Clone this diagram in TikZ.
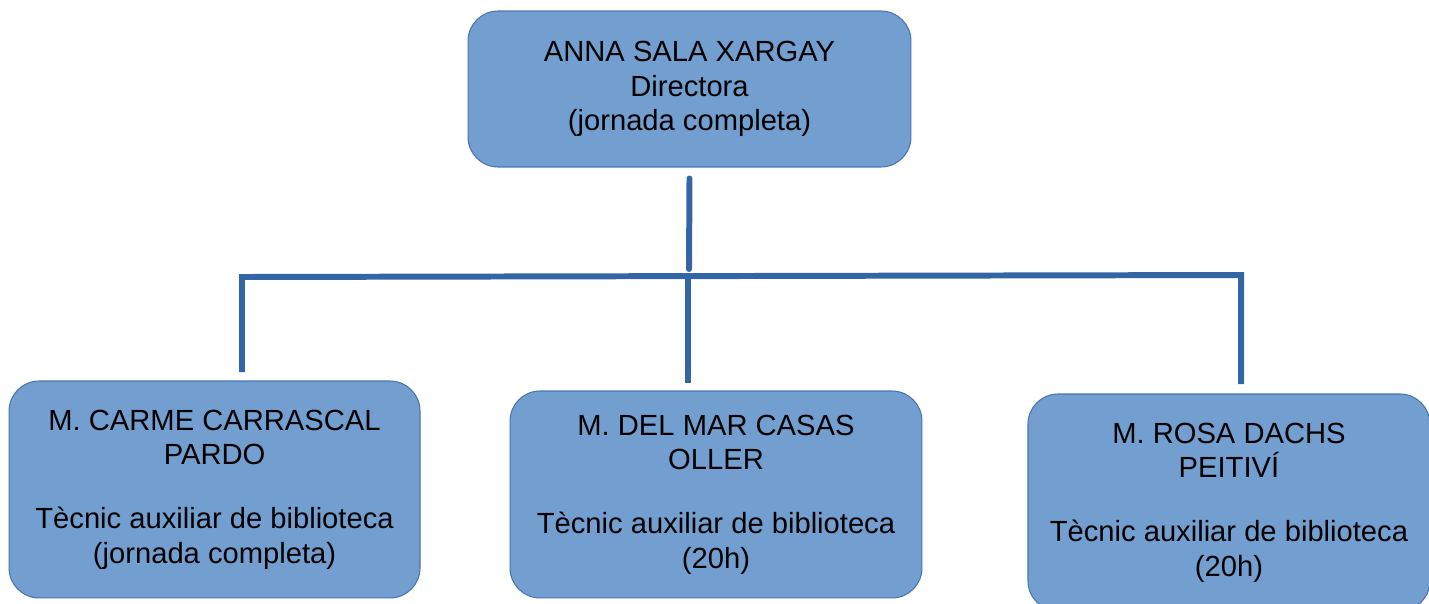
\documentclass[tikz,border=0pt]{standalone}
\usepackage{fontspec}
\setmainfont{Liberation Sans}
\usetikzlibrary{positioning}
\definecolor{boxBlue}{RGB}{114,159,207}
\definecolor{edgeBlue}{RGB}{72,116,178}
\definecolor{linkBlue}{RGB}{52,101,164}

\begin{document}
\begin{tikzpicture}[
    x=0.02cm, y=-0.02cm,
    person/.style={rectangle, draw=edgeBlue, line width=0.6pt, rounded corners=0.6cm, fill=boxBlue, align=center, font=\fontsize{16.6}{19.6}\selectfont},
    link/.style={draw=linkBlue, line width=3.4pt}
]
\useasboundingbox (0,0) rectangle (1429,603);

\node[person, minimum width=8.86cm, minimum height=3.12cm] (director) at (689.5,89) {ANNA SALA XARGAY\\Directora\\(jornada completa)};
\node[person, minimum width=8.22cm, minimum height=4.34cm, below left=4.26cm and 0.94cm of director] (carme) {M. CARME CARRASCAL\\PARDO\\[17pt]Tècnic auxiliar de biblioteca\\(jornada completa)};
\node[person, minimum width=8.24cm, minimum height=4.14cm, below=4.46cm of director, xshift=0.53cm] (mar) {M. DEL MAR CASAS\\OLLER\\[17pt]Tècnic auxiliar de biblioteca\\(20h)};
\node[person, minimum width=8.04cm, minimum height=4.34cm, below right=4.52cm and 2.32cm of director] (rosa) {M. ROSA DACHS\\PEITIVÍ\\[17pt]Tècnic auxiliar de biblioteca\\(20h)};

% connector points
\coordinate (stub) at (689,269);
\coordinate (hub) at (688,276);
\coordinate (barL) at (242,277);
\coordinate (barR) at (1241,275);
\coordinate (footL) at (242,372);
\coordinate (footM) at (688,383);
\coordinate (footR) at (1241,384);

\draw[link, line cap=round] ([yshift=-0.22cm]director.south) -- (stub);
\draw[link] (footL) -- (barL) -- (barR) -- (footR);
\draw[link] (hub) -- (footM);

\end{tikzpicture}
\end{document}
